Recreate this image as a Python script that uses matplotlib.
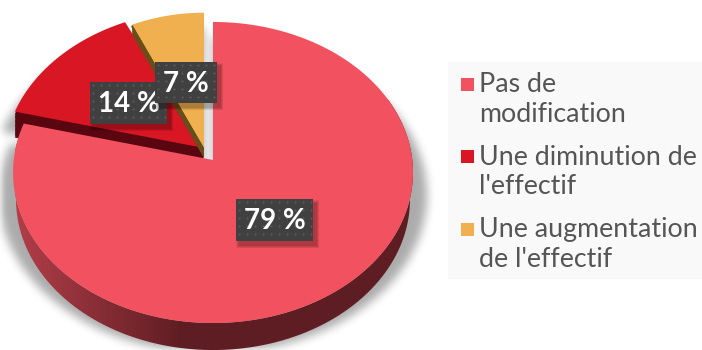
import numpy as np
import matplotlib
matplotlib.use("Agg")
import matplotlib.pyplot as plt
from matplotlib.path import Path
from matplotlib.patches import Rectangle, PathPatch

# Daten
categories = ["Pas de\nmodification", "Une diminution de\nl'effectif", "Une augmentation\nde l'effectif"]
values = [79, 14, 7]
top_colors = ["#F2525F", "#D91624", "#F0B050"]
side_colors = ["#5E1D23", "#5A0610", "#6B4D1A"]

FONT = "Lato"
plt.rcParams["font.family"] = [FONT, "DejaVu Sans"]

fig = plt.figure(figsize=(7.02, 3.5), dpi=100)
ax = fig.add_axes([0, 0, 1, 1])
ax.set_xlim(0, 702)
ax.set_ylim(350, 0)
ax.axis("off")


def project(theta, apex, sx=1.0, sy=1.0, radius=1.0):
    # Kreis -> Perspektive (theta im Uhrzeigersinn von oben)
    k = 0.083
    u = radius * np.sin(theta)
    v = radius * np.cos(theta)
    x = apex[0] + sx * 199.3 * u / (1 + k * v)
    y = apex[1] - sy * 149.5 * v / (1 + k * v)
    return x, y


def wedge(start, end, apex, sx=1.0, sy=1.0, dy=0.0, radius=1.0):
    t = np.radians(np.linspace(start, end, 160))
    x, y = project(t, apex, sx, sy, radius)
    return np.r_[apex[0], x], np.r_[apex[1] + dy, y + dy]


# Winkel aus den Werten (Start oben, im Uhrzeigersinn)
edges = np.cumsum([0] + values) / sum(values) * 360
apexes = [(213, 160), (204, 148), (204, 148)]
scales = [(1.0, 1.0), (1.0, 1.0), (0.91, 0.98)]
depths = [27, 10, 10]

# Schatten
gx, gy = np.meshgrid(np.arange(702) + 0.5, np.arange(350) + 0.5)
pts = np.c_[gx.ravel(), gy.ravel()]
mask = np.zeros(gx.shape)
for i in range(3):
    sx, sy = scales[i]
    px, py = wedge(edges[i], edges[i + 1], apexes[i], sx * 1.07, sy * 1.05, dy=22)
    mask = np.maximum(mask, Path(np.c_[px, py]).contains_points(pts).reshape(gx.shape).astype(float))
kernel = np.ones(9) / 9
for _ in range(3):
    mask = np.apply_along_axis(lambda r: np.convolve(r, kernel, mode="same"), 0, mask)
    mask = np.apply_along_axis(lambda r: np.convolve(r, kernel, mode="same"), 1, mask)
shadow = np.zeros(gx.shape + (4,))
shadow[..., 3] = mask * 0.33
ax.imshow(shadow, extent=(0, 702, 350, 0), zorder=1, aspect="auto")

# Rot und Orange
for i in [1, 2]:
    sx, sy = scales[i]
    for d in np.arange(1, depths[i] + 0.5, 0.5):
        px, py = wedge(edges[i], edges[i + 1], apexes[i], sx, sy, dy=d * (2.6 if i == 1 else 1))
        if i == 1 and d * 2.6 > 30:
            continue
        ax.fill(px, py, color=side_colors[i], lw=0, zorder=2 + i)
    px, py = wedge(edges[i], edges[i + 1], apexes[i], sx, sy)
    ax.fill(px, py, color=top_colors[i], lw=0, zorder=2.5 + i)
# Kante Orange
ox, oy = wedge(edges[2], edges[3], apexes[2], *scales[2])
ax.fill(np.r_[ox[0], ox[1], ox[1] - 1, ox[0] - 3], np.r_[oy[0], oy[1], oy[1] + 2, oy[0] + 2],
        color=side_colors[2], lw=0, zorder=6)

# Grosses Stueck: Seite mit Verlauf
bx, by = wedge(edges[0], edges[1], apexes[0], 0.985, 1.0, dy=27)
tx, ty = wedge(edges[0], edges[1], apexes[0])
keep = (by > 140)
side_poly = np.c_[np.r_[bx[1:][keep[1:]], tx[1:][::-1]], np.r_[by[1:][keep[1:]], ty[1:][::-1]]]
clip = PathPatch(Path(np.r_[side_poly, side_poly[:1]]), transform=ax.transData, fc="none", ec="none")
ax.add_patch(clip)
light = np.array([178, 62, 72]) / 255
dark = np.array([94, 29, 35]) / 255
ramp = np.clip(np.linspace(0, 1, 400) / 0.42, 0, 1)[None, :, None]
grad = light[None, None, :] * (1 - ramp) + dark[None, None, :] * ramp
im = ax.imshow(grad, extent=(15, 415, 350, 100), zorder=7, aspect="auto")
im.set_clip_path(clip)
ax.fill(tx, ty, color=top_colors[0], lw=0, zorder=8)

# Prozent-Boxen
boxes = [(236, 199, 77, 42), (90, 82, 77, 42), (155, 62, 62, 41)]
for i in [0, 1, 2]:
    x0, y0, w, h = boxes[i]
    z = 9 + i
    for g in range(6, 0, -1):
        ax.add_patch(Rectangle((x0 + 3 - g / 2, y0 + 4 - g / 2), w + g, h + g, fc="black", alpha=0.05, lw=0, zorder=z))
    ax.add_patch(Rectangle((x0, y0), w, h, fc="#404040", lw=0, zorder=z))
    dx = np.arange(x0 + 3, x0 + w, 8.0)
    dy = np.arange(y0 + 3, y0 + h, 8.0)
    ddx, ddy = np.meshgrid(dx, dy)
    ax.scatter(ddx.ravel(), ddy.ravel(), s=2.5, color="#595959", lw=0, zorder=z)
    ax.text(x0 + w / 2, y0 + h / 2 + 1, f"{values[i]} %", color="white", fontsize=20, fontweight="bold",
            ha="center", va="center", zorder=z + 0.5)

# Legende
ax.add_patch(Rectangle((448, 62), 254, 217, fc="#F9F9F9", lw=0, zorder=1.5))
square_y = [78, 150, 223]
base_y = [(92, 122), (165, 194), (237, 267)]
for i, name in enumerate(categories):
    ax.add_patch(Rectangle((461, square_y[i]), 13, 13, fc=top_colors[i], lw=0, zorder=2))
    for line, yb in zip(name.split("\n"), base_y[i]):
        ax.text(479, yb, line, color="#555555", fontsize=19.3, ha="left", va="baseline", zorder=2)

fig.savefig("out.png", dpi=100)
